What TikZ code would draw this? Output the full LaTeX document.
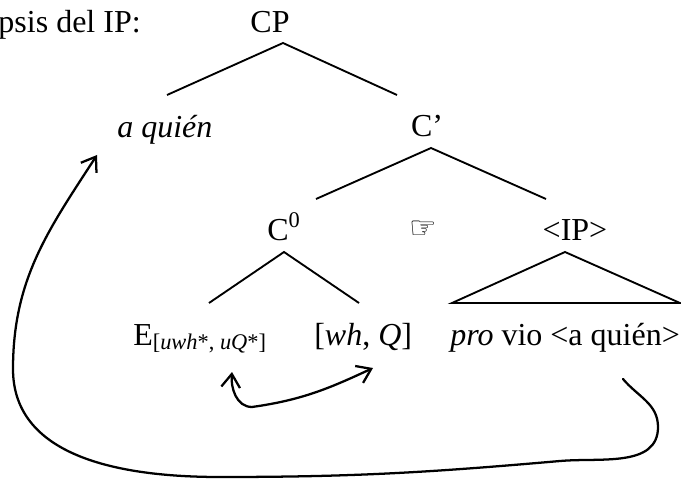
\documentclass[tikz,border=0pt]{standalone}
\usepackage{fontspec}
\setmainfont{Liberation Serif}
\newfontfamily\handfont{DejaVu Sans}
\usetikzlibrary{arrows.meta}

\begin{document}
\begin{tikzpicture}[x=0.75pt, y=0.75pt, >={Straight Barb[length=10pt,width=14pt]},
  font=\fontsize{24}{28}\selectfont, inner sep=0pt,
  branch/.style={line width=1.4pt},
  move/.style={line width=1.7pt, ->, line cap=round}]
  \useasboundingbox (0,0) rectangle (681,479);
  % labels of the tree
  \node[anchor=base east] (title) at (141,446) {psis del IP:};
  \node[anchor=base] (cp) at (270,446) {CP};
  \node[anchor=base west] (aq) at (117,341) {\textit{a quién}};
  \node[anchor=base] (cbar) at (427,342) {C’};
  \node[anchor=base] (c0) at (284,239) {C\textsuperscript{0}};
  \node[font=\handfont\fontsize{23}{23}\selectfont] (hand) at (423,249) {☞};
  \node[anchor=base] (ip) at (575,239) {<IP>};
  \node[anchor=base west] (e) at (133,134) {E\textsubscript{[\textit{uwh}*, \textit{uQ}*]}};
  \node[anchor=base west] (feat) at (314,134) {[\textit{wh}, \textit{Q}]};
  \node[anchor=base west] (vp) at (450,134) {\textit{pro} vio <a quién>};
  % branch points
  \coordinate (cp-top) at (283,436);
  \coordinate (cp-l) at (167,384);
  \coordinate (cp-r) at (397,384);
  \coordinate (cb-top) at (431,331);
  \coordinate (cb-l) at (316,280);
  \coordinate (cb-r) at (546,280);
  \coordinate (c0-top) at (284,227);
  \coordinate (c0-l) at (209,176);
  \coordinate (c0-r) at (359,176);
  \coordinate (ip-top) at (565,227);
  \coordinate (ip-l) at (452,176);
  \coordinate (ip-r) at (680,176);
  \draw[branch] (cp-l) -- (cp-top) -- (cp-r);
  \draw[branch] (cb-l) -- (cb-top) -- (cb-r);
  \draw[branch] (c0-l) -- (c0-top) -- (c0-r);
  \draw[branch, line join=miter] (ip-l) -- (ip-top) -- (ip-r) -- cycle;
  % movement of the wh-phrase
  \coordinate (trace) at (623,100);
  \coordinate (landing) at (97,324);
  \draw[move] (trace) to[out=-50,in=90] (658,52) to[out=-90,in=5] (560,18)
    to[out=185,in=0] (220,2) to[out=180,in=-90] (13,110) to[out=90,in=-123] (landing);
  % feature checking
  \coordinate (probe) at (232,107);
  \coordinate (goal) at (373,111);
  \draw[move, <->] (probe) to[out=-95,in=180] (252,72) to[out=8,in=-155] (goal);
\end{tikzpicture}
\end{document}
